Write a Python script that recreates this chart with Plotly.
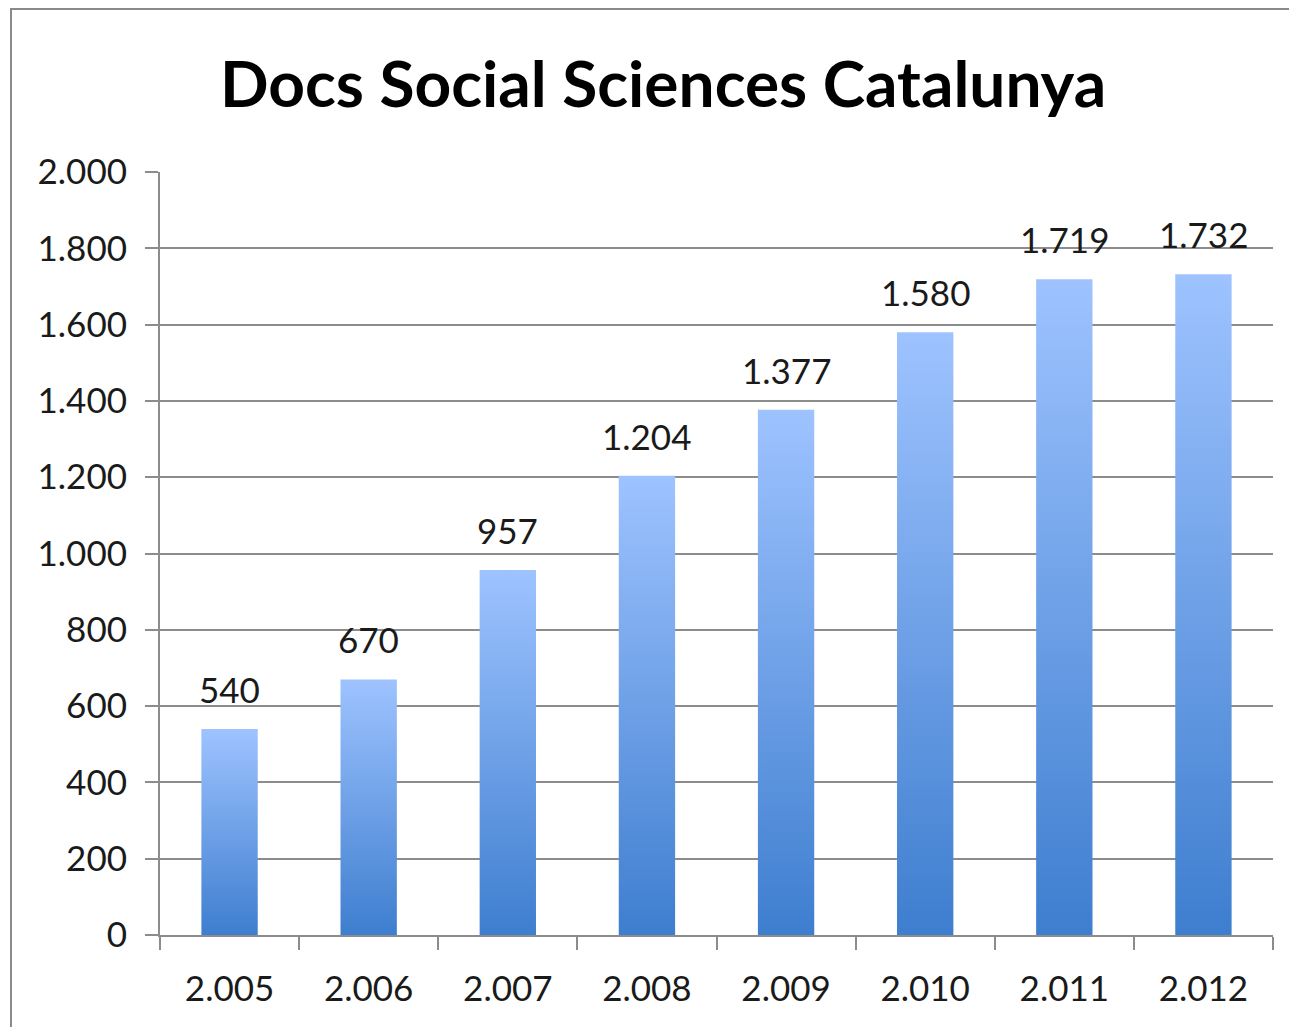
import plotly.graph_objects as go

years = ["2.005", "2.006", "2.007", "2.008", "2.009", "2.010", "2.011", "2.012"]
docs = [540, 670, 957, 1204, 1377, 1580, 1719, 1732]
y_ticks = [0, 200, 400, 600, 800, 1000, 1200, 1400, 1600, 1800, 2000]
title_text = "Docs Social Sciences Catalunya"

FONT = "Lato"
GRID = "#8c8c8c"
BAR_W = 0.405
W, H = 1289, 1019  # page adds an 8px body margin

def fmt(v):
    return f"{v:,}".replace(",", ".")

fig = go.Figure()
for i, v in enumerate(docs):
    x0, x1 = i - BAR_W / 2, i + BAR_W / 2
    fig.add_trace(go.Scatter(
        x=[x0, x1, x1, x0, x0], y=[0, 0, v, v, 0],
        mode="lines", line=dict(width=0), fill="toself",
        fillgradient=dict(type="vertical",
                          colorscale=[[0, "#3e7ecf"], [1, "#9ec3ff"]],
                          start=0, stop=v),
        showlegend=False, hoverinfo="skip", xaxis="x", yaxis="y"))

# hidden trace to activate label axis
fig.add_trace(go.Scatter(x=list(range(len(years))), y=docs, mode="markers",
                         marker=dict(opacity=0), showlegend=False,
                         hoverinfo="skip", xaxis="x2", yaxis="y"))

for i, v in enumerate(docs):
    fig.add_annotation(x=i, y=v, xref="x", yref="y", text=fmt(v),
                       showarrow=False, yanchor="bottom", yshift=17,
                       font=dict(family=FONT, size=35, color="#1a1a1a"))

fig.update_layout(
    width=W, height=H,
    margin=dict(l=152, r=24, t=164, b=92),
    paper_bgcolor="white", plot_bgcolor="white",
    separators=",.",
    title=dict(text="<b>" + title_text + "</b>", x=655 / W, xanchor="center",
               y=1 - 77 / H, yanchor="middle",
               font=dict(family=FONT, size=64, color="#000000")),
    xaxis=dict(range=[-0.5, 7.5], tickvals=[k - 0.5 for k in range(len(years) + 1)],
               showticklabels=False, ticks="outside", ticklen=13, tickwidth=2,
               tickcolor=GRID, showgrid=False, zeroline=False,
               showline=True, linecolor=GRID, linewidth=2),
    xaxis2=dict(range=[-0.5, 7.5], overlaying="x", side="bottom",
                tickvals=list(range(len(years))), ticktext=years,
                ticks="", showgrid=False, zeroline=False, showline=False,
                ticklabelstandoff=30,
                tickfont=dict(family=FONT, size=35, color="#1a1a1a")),
    yaxis=dict(range=[0, 2000], tickvals=y_ticks, tickformat=",d",
               ticks="outside", ticklen=13, tickwidth=2, tickcolor=GRID,
               showgrid=True, gridcolor=GRID, gridwidth=2,
               zeroline=False, showline=True, linecolor=GRID, linewidth=2,
               ticklabelstandoff=11,
               tickfont=dict(family=FONT, size=35, color="#1a1a1a")),
)

fig.add_shape(type="rect", xref="paper", yref="paper",
              x0=(11 - 160) / 1113, x1=1.2, y0=-0.3, y1=(935 - 9) / 763,
              line=dict(color="#8a8a8a", width=2), fillcolor="rgba(0,0,0,0)",
              layer="below")

fig.write_html("out.html")
